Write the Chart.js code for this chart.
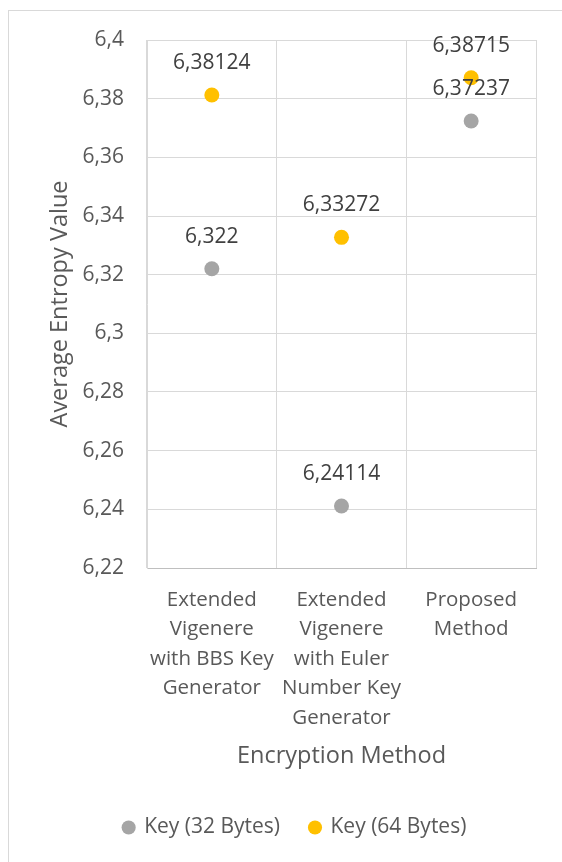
<!DOCTYPE html>
<html>
<head>
<meta charset="utf-8">
<script src="https://cdn.jsdelivr.net/npm/chart.js@4"></script>
<style>
  html, body { margin: 0; padding: 0; background: #fff; overflow: hidden; }
  #wrap { position: relative; width: 562px; height: 862px; }
  #frame { position: absolute; left: 8px; top: 10px; width: 600px; height: 900px; border: 1px solid #D9D9D9; box-sizing: border-box; }
  canvas { position: absolute; left: 0; top: 0; }
</style>
</head>
<body>
<div id="wrap">
  <div id="frame"></div>
  <canvas id="c" width="562" height="862"></canvas>
</div>
<script>
const categories = [
  ["Extended", "Vigenere", "with BBS Key", "Generator"],
  ["Extended", "Vigenere", "with Euler", "Number Key", "Generator"],
  ["Proposed", "Method"]
];
const seriesNames = ["Key (32 Bytes)", "Key (64 Bytes)"];
const key32 = [6.322, 6.24114, 6.37237];
const key64 = [6.38124, 6.33272, 6.38715];
const yTicks = { min: 6.22, max: 6.4, step: 0.02 };

const FONT = "'Open Sans', sans-serif";
const comma = v => String(v).replace('.', ',');

const dataLabels = {
  id: 'dataLabels',
  afterDatasetsDraw(chart) {
    const ctx = chart.ctx;
    ctx.save();
    ctx.font = "21px " + FONT;
    ctx.fillStyle = '#404040';
    ctx.textAlign = 'center';
    ctx.textBaseline = 'middle';
    chart.data.datasets.forEach((ds, di) => {
      const meta = chart.getDatasetMeta(di);
      meta.data.forEach((pt, i) => {
        ctx.fillText(comma(ds.data[i]), pt.x, pt.y - 32);
      });
    });
    ctx.restore();
  }
};

new Chart(document.getElementById('c'), {
  type: 'line',
  data: {
    labels: categories,
    datasets: [
      { label: seriesNames[0], data: key32, showLine: false, pointRadius: 7.5, pointHoverRadius: 7.5,
        pointBackgroundColor: '#A5A5A5', pointBorderColor: '#A5A5A5', backgroundColor: '#A5A5A5', borderColor: '#A5A5A5', pointStyle: 'circle', borderWidth: 0 },
      { label: seriesNames[1], data: key64, showLine: false, pointRadius: 7.5, pointHoverRadius: 7.5,
        pointBackgroundColor: '#FFC000', pointBorderColor: '#FFC000', backgroundColor: '#FFC000', borderColor: '#FFC000', pointStyle: 'circle', borderWidth: 0 }
    ]
  },
  options: {
    responsive: false,
    animation: false,
    events: [],
    layout: { padding: { left: 54, right: 26, top: 40, bottom: 14 } },
    scales: {
      x: {
        type: 'category',
        offset: true,
        grid: { offset: true, color: '#D9D9D9', lineWidth: 1, drawTicks: false },
        border: { display: true, color: '#BFBFBF', width: 1 },
        ticks: { color: '#595959', font: { family: FONT, size: 20.5, lineHeight: 1.44 }, padding: 17, maxRotation: 0, autoSkip: false },
        title: { display: true, text: 'Encryption Method', color: '#595959', font: { family: FONT, size: 23.5 }, padding: { top: 0, bottom: 17 } },
        afterFit(s) { s.height = 219; }
      },
      y: {
        min: yTicks.min, max: yTicks.max,
        grid: { color: '#D9D9D9', lineWidth: 1, drawTicks: false },
        border: { display: true, color: '#D9D9D9', width: 1 },
        ticks: { stepSize: yTicks.step, color: '#595959', font: { family: FONT, size: 21 }, padding: 23,
          callback: v => comma(Number(v.toFixed(2))) },
        title: { display: true, text: 'Average Entropy Value', color: '#595959', font: { family: FONT, size: 23.5 }, padding: { top: -8, bottom: 0 } },
        afterFit(s) { s.width = 93; }
      }
    },
    plugins: {
      legend: {
        position: 'bottom',
        labels: { usePointStyle: true, pointStyle: 'circle', boxWidth: 10, boxHeight: 10, padding: 30,
          color: '#595959', font: { family: FONT, size: 21 } }
      },
      tooltip: { enabled: false }
    }
  },
  plugins: [dataLabels]
});
</script>
</body>
</html>
